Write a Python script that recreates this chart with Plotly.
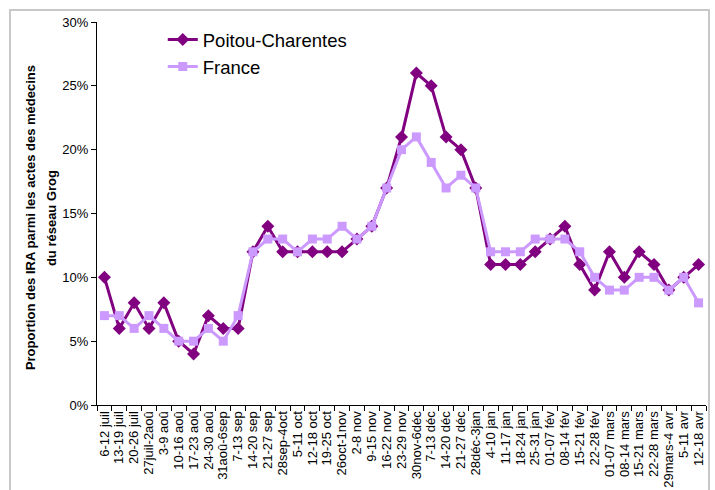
import plotly.graph_objects as go

weeks = [
    "6-12 juil", "13-19 juil", "20-26 juil", "27juil-2aoû", "3-9 aoû",
    "10-16 aoû", "17-23 aoû", "24-30 aoû", "31aoû-6sep", "7-13 sep",
    "14-20 sep", "21-27 sep", "28sep-4oct", "5-11 oct", "12-18 oct",
    "19-25 oct", "26oct-1nov", "2-8 nov", "9-15 nov", "16-22 nov",
    "23-29 nov", "30nov-6déc", "7-13 déc", "14-20 déc", "21-27 déc",
    "28déc-3jan", "4-10 jan", "11-17 jan", "18-24 jan", "25-31 jan",
    "01-07 fév", "08-14 fév", "15-21 fév", "22-28 fév", "01-07 mars",
    "08-14 mars", "15-21 mars", "22-28 mars", "29mars-4 avr", "5-11 avr",
    "12-18 avr",
]

# Share of acute respiratory infections (%) among GP consultations
poitou_charentes = [
    10, 6, 8, 6, 8, 5, 4, 7, 6, 6, 12, 14, 12, 12, 12, 12, 12, 13, 14, 17,
    21, 26, 25, 21, 20, 17, 11, 11, 11, 12, 13, 14, 11, 9, 12, 10, 12, 11,
    9, 10, 11,
]
france = [
    7, 7, 6, 7, 6, 5, 5, 6, 5, 7, 12, 13, 13, 12, 13, 13, 14, 13, 14, 17,
    20, 21, 19, 17, 18, 17, 12, 12, 12, 13, 13, 13, 12, 10, 9, 9, 10, 10,
    9, 10, 8,
]

y_ticks = [0, 5, 10, 15, 20, 25, 30]
y_tick_labels = [f"{v}%" for v in y_ticks]
y_title_lines = ["Proportion des IRA parmi les actes des médecins", "du réseau Grog"]

FONT = "Liberation Sans, Arial, sans-serif"

fig = go.Figure()
fig.add_trace(go.Scatter(
    x=weeks, y=poitou_charentes, name="Poitou-Charentes",
    mode="lines+markers", legendgroup="pc",
    line=dict(color="#800080", width=3),
    marker=dict(symbol="diamond", size=10, color="#800080"),
))
fig.add_trace(go.Scatter(
    x=weeks, y=france, name="France",
    mode="lines+markers", legendgroup="fr",
    line=dict(color="#CC99FF", width=3),
    marker=dict(symbol="square", size=9, color="#CC99FF"),
))

# light grey frame around the whole chart
fig.add_shape(
    type="rect", xref="paper", yref="paper",
    x0=-0.1429, x1=1.0049, y0=-0.30, y1=1.0313,
    line=dict(color="#c8c8c8", width=2), fillcolor="rgba(0,0,0,0)",
    layer="below",
)

# rotated two-line y-axis title, one annotation per line
for line_text, xpos in zip(y_title_lines, [-0.110, -0.0755]):
    fig.add_annotation(
        xref="paper", yref="paper", x=xpos, y=0.488,
        text=f"<b>{line_text}</b>",
        textangle=-90, showarrow=False,
        font=dict(family=FONT, size=13, color="#000"),
        xanchor="center", yanchor="middle",
    )

fig.update_layout(
    width=715, height=490,
    margin=dict(l=97, r=9, t=22, b=85),
    paper_bgcolor="white", plot_bgcolor="white",
    font=dict(family=FONT, size=13, color="#000"),
    showlegend=True,
    legend=dict(
        x=0.108, y=1.003, xanchor="left", yanchor="top",
        font=dict(family=FONT, size=18.5, color="#000"),
        bgcolor="rgba(0,0,0,0)", traceorder="grouped", tracegroupgap=0,
        itemwidth=30,
    ),
    xaxis=dict(
        type="category", tickangle=-90, tickson="boundaries",
        tickmode="array", tickvals=weeks, ticktext=weeks,
        ticks="outside", ticklen=5, tickcolor="#000",
        showline=True, linecolor="#000", linewidth=1,
        showgrid=False, zeroline=False, automargin=False,
        tickfont=dict(family=FONT, size=13, color="#000"),
        range=[-0.5, len(weeks) - 0.5],
    ),
    yaxis=dict(
        range=[0, 30], tickvals=y_ticks, ticktext=y_tick_labels,
        ticks="outside", ticklen=5, tickcolor="#000",
        showline=True, linecolor="#000", linewidth=1,
        showgrid=False, zeroline=False, automargin=False,
        tickfont=dict(family=FONT, size=13, color="#000"),
    ),
)

fig.write_html("out.html")
